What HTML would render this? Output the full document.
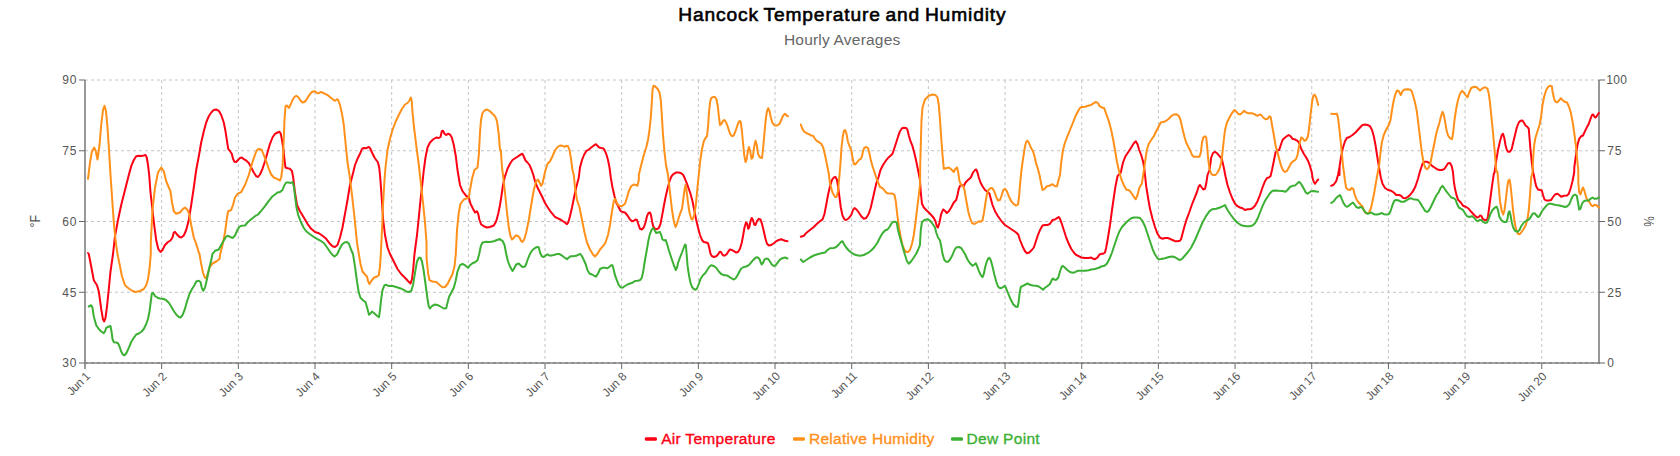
<!DOCTYPE html>
<html><head><meta charset="utf-8"><title>Hancock Temperature and Humidity</title>
<style>html,body{margin:0;padding:0;background:#fff;overflow:hidden}body{width:1680px;height:456px;position:relative}</style></head>
<body>
<svg width="1680" height="456" viewBox="0 0 1680 456" style="position:absolute;left:0;top:0">
<line x1="85" y1="80" x2="1599" y2="80" stroke="#c4c4c4" stroke-width="1" stroke-dasharray="3,3"/>
<line x1="85" y1="150.75" x2="1599" y2="150.75" stroke="#c4c4c4" stroke-width="1" stroke-dasharray="3,3"/>
<line x1="85" y1="221.5" x2="1599" y2="221.5" stroke="#c4c4c4" stroke-width="1" stroke-dasharray="3,3"/>
<line x1="85" y1="292.25" x2="1599" y2="292.25" stroke="#c4c4c4" stroke-width="1" stroke-dasharray="3,3"/>
<line x1="161.67" y1="363" x2="161.67" y2="80" stroke="#c4c4c4" stroke-width="1" stroke-dasharray="3,3" stroke-dashoffset="2"/>
<line x1="238.34" y1="363" x2="238.34" y2="80" stroke="#c4c4c4" stroke-width="1" stroke-dasharray="3,3" stroke-dashoffset="2"/>
<line x1="315.01" y1="363" x2="315.01" y2="80" stroke="#c4c4c4" stroke-width="1" stroke-dasharray="3,3" stroke-dashoffset="2"/>
<line x1="391.68" y1="363" x2="391.68" y2="80" stroke="#c4c4c4" stroke-width="1" stroke-dasharray="3,3" stroke-dashoffset="2"/>
<line x1="468.36" y1="363" x2="468.36" y2="80" stroke="#c4c4c4" stroke-width="1" stroke-dasharray="3,3" stroke-dashoffset="2"/>
<line x1="545.03" y1="363" x2="545.03" y2="80" stroke="#c4c4c4" stroke-width="1" stroke-dasharray="3,3" stroke-dashoffset="2"/>
<line x1="621.7" y1="363" x2="621.7" y2="80" stroke="#c4c4c4" stroke-width="1" stroke-dasharray="3,3" stroke-dashoffset="2"/>
<line x1="698.37" y1="363" x2="698.37" y2="80" stroke="#c4c4c4" stroke-width="1" stroke-dasharray="3,3" stroke-dashoffset="2"/>
<line x1="775.04" y1="363" x2="775.04" y2="80" stroke="#c4c4c4" stroke-width="1" stroke-dasharray="3,3" stroke-dashoffset="2"/>
<line x1="851.71" y1="363" x2="851.71" y2="80" stroke="#c4c4c4" stroke-width="1" stroke-dasharray="3,3" stroke-dashoffset="2"/>
<line x1="928.38" y1="363" x2="928.38" y2="80" stroke="#c4c4c4" stroke-width="1" stroke-dasharray="3,3" stroke-dashoffset="2"/>
<line x1="1005.05" y1="363" x2="1005.05" y2="80" stroke="#c4c4c4" stroke-width="1" stroke-dasharray="3,3" stroke-dashoffset="2"/>
<line x1="1081.72" y1="363" x2="1081.72" y2="80" stroke="#c4c4c4" stroke-width="1" stroke-dasharray="3,3" stroke-dashoffset="2"/>
<line x1="1158.39" y1="363" x2="1158.39" y2="80" stroke="#c4c4c4" stroke-width="1" stroke-dasharray="3,3" stroke-dashoffset="2"/>
<line x1="1235.07" y1="363" x2="1235.07" y2="80" stroke="#c4c4c4" stroke-width="1" stroke-dasharray="3,3" stroke-dashoffset="2"/>
<line x1="1311.74" y1="363" x2="1311.74" y2="80" stroke="#c4c4c4" stroke-width="1" stroke-dasharray="3,3" stroke-dashoffset="2"/>
<line x1="1388.41" y1="363" x2="1388.41" y2="80" stroke="#c4c4c4" stroke-width="1" stroke-dasharray="3,3" stroke-dashoffset="2"/>
<line x1="1465.08" y1="363" x2="1465.08" y2="80" stroke="#c4c4c4" stroke-width="1" stroke-dasharray="3,3" stroke-dashoffset="2"/>
<line x1="1541.75" y1="363" x2="1541.75" y2="80" stroke="#c4c4c4" stroke-width="1" stroke-dasharray="3,3" stroke-dashoffset="2"/>
<line x1="85" y1="80" x2="85" y2="369" stroke="#989898" stroke-width="2"/>
<line x1="1599" y1="80" x2="1599" y2="364" stroke="#989898" stroke-width="2"/>
<line x1="84" y1="363" x2="1600" y2="363" stroke="#8e8e8e" stroke-width="2"/>
<line x1="85" y1="363" x2="1599" y2="363" stroke="#b8b8b8" stroke-width="1" stroke-dasharray="3,3" stroke-dashoffset="3"/>
<line x1="79" y1="80" x2="85" y2="80" stroke="#666" stroke-width="1"/>
<line x1="1599" y1="80" x2="1605" y2="80" stroke="#666" stroke-width="1"/>
<line x1="79" y1="150.75" x2="85" y2="150.75" stroke="#666" stroke-width="1"/>
<line x1="1599" y1="150.75" x2="1605" y2="150.75" stroke="#666" stroke-width="1"/>
<line x1="79" y1="221.5" x2="85" y2="221.5" stroke="#666" stroke-width="1"/>
<line x1="1599" y1="221.5" x2="1605" y2="221.5" stroke="#666" stroke-width="1"/>
<line x1="79" y1="292.25" x2="85" y2="292.25" stroke="#666" stroke-width="1"/>
<line x1="1599" y1="292.25" x2="1605" y2="292.25" stroke="#666" stroke-width="1"/>
<line x1="79" y1="363" x2="85" y2="363" stroke="#666" stroke-width="1"/>
<line x1="1599" y1="363" x2="1605" y2="363" stroke="#666" stroke-width="1"/>
<line x1="161.67" y1="363" x2="161.67" y2="369" stroke="#666" stroke-width="1"/>
<line x1="238.34" y1="363" x2="238.34" y2="369" stroke="#666" stroke-width="1"/>
<line x1="315.01" y1="363" x2="315.01" y2="369" stroke="#666" stroke-width="1"/>
<line x1="391.68" y1="363" x2="391.68" y2="369" stroke="#666" stroke-width="1"/>
<line x1="468.36" y1="363" x2="468.36" y2="369" stroke="#666" stroke-width="1"/>
<line x1="545.03" y1="363" x2="545.03" y2="369" stroke="#666" stroke-width="1"/>
<line x1="621.7" y1="363" x2="621.7" y2="369" stroke="#666" stroke-width="1"/>
<line x1="698.37" y1="363" x2="698.37" y2="369" stroke="#666" stroke-width="1"/>
<line x1="775.04" y1="363" x2="775.04" y2="369" stroke="#666" stroke-width="1"/>
<line x1="851.71" y1="363" x2="851.71" y2="369" stroke="#666" stroke-width="1"/>
<line x1="928.38" y1="363" x2="928.38" y2="369" stroke="#666" stroke-width="1"/>
<line x1="1005.05" y1="363" x2="1005.05" y2="369" stroke="#666" stroke-width="1"/>
<line x1="1081.72" y1="363" x2="1081.72" y2="369" stroke="#666" stroke-width="1"/>
<line x1="1158.39" y1="363" x2="1158.39" y2="369" stroke="#666" stroke-width="1"/>
<line x1="1235.07" y1="363" x2="1235.07" y2="369" stroke="#666" stroke-width="1"/>
<line x1="1311.74" y1="363" x2="1311.74" y2="369" stroke="#666" stroke-width="1"/>
<line x1="1388.41" y1="363" x2="1388.41" y2="369" stroke="#666" stroke-width="1"/>
<line x1="1465.08" y1="363" x2="1465.08" y2="369" stroke="#666" stroke-width="1"/>
<line x1="1541.75" y1="363" x2="1541.75" y2="369" stroke="#666" stroke-width="1"/>
<path d="M88.0 253.0L88.8 254.0L91.2 266.5L93.8 280.2L97.0 285.2L98.8 291.5L101.2 309.0L103.0 319.5L104.2 321.5L105.5 317.8L107.0 306.5L108.8 289.0L110.5 271.5L113.0 254.0L115.0 236.2L118.0 220.0L121.2 205.0L125.0 190.0L128.8 175.0L131.2 166.2L133.8 160.0L136.2 156.2L138.8 155.8L141.2 156.0L143.8 155.5L145.5 155.0L146.8 157.5L148.0 165.0L149.2 175.0L150.5 192.5L152.5 210.0L154.2 225.0L156.2 240.0L158.2 248.8L160.5 252.0L162.5 250.0L165.0 245.0L168.0 242.0L170.5 240.5L172.5 237.5L173.8 232.5L175.0 231.8L177.0 234.5L179.5 237.0L181.2 237.5L183.8 235.5L186.2 230.0L188.8 220.0L191.2 205.0L193.8 187.5L196.2 170.0L198.8 156.2L201.2 142.5L203.8 131.2L206.2 122.5L208.8 116.2L211.2 112.5L213.8 110.0L216.2 109.5L218.8 110.8L221.2 115.0L223.8 122.5L225.5 131.2L227.0 141.2L228.2 148.8L230.0 151.2L231.8 153.8L233.0 158.8L234.5 161.8L236.2 162.0L238.0 160.0L240.0 158.0L241.8 157.5L243.8 159.2L246.2 160.5L248.8 163.0L251.2 167.5L253.8 172.5L256.2 176.2L258.0 177.0L260.0 174.5L262.5 168.8L265.0 161.2L267.5 152.5L270.0 143.8L272.5 137.5L275.0 133.8L277.5 132.5L279.5 131.8L280.8 133.8L282.0 140.0L283.5 150.0L284.5 160.0L285.5 167.5L287.5 168.2L290.0 168.8L292.0 171.2L293.2 177.5L293.8 182.5L295.0 192.5L297.0 205.0L300.0 211.2L303.8 217.5L307.5 223.8L311.2 228.8L315.0 232.0L318.8 233.2L322.5 235.8L326.2 238.8L330.0 243.8L332.5 246.2L335.0 247.0L337.5 245.0L340.0 237.5L342.5 227.5L345.0 213.8L347.5 200.0L350.0 185.0L353.2 172.5L355.0 165.0L357.5 158.8L360.0 153.8L362.0 148.8L363.8 148.0L366.2 148.2L368.8 147.0L370.0 148.0L372.0 152.5L374.5 157.5L376.2 160.0L378.0 162.5L379.2 167.5L380.0 175.0L380.8 185.0L382.0 202.5L383.2 220.0L385.0 235.0L387.5 247.5L390.0 254.0L393.8 261.5L397.5 269.0L401.2 274.0L405.0 277.8L408.0 281.0L410.5 283.5L412.0 279.0L413.2 269.0L414.5 254.0L417.0 235.0L418.8 217.5L420.5 200.0L422.5 182.5L423.8 170.0L425.5 157.5L427.5 147.5L430.0 142.5L433.0 139.5L436.2 137.5L438.8 138.0L440.5 137.0L441.8 131.2L443.0 130.8L444.5 133.8L446.2 135.0L448.0 133.8L450.0 134.5L451.8 137.5L453.8 145.0L455.8 156.2L457.5 170.0L460.0 185.0L462.5 191.2L466.2 195.8L468.8 197.5L470.5 203.8L473.0 208.8L475.0 212.5L477.0 211.2L478.2 213.8L479.5 220.0L481.2 224.5L483.8 226.2L487.0 227.5L490.0 227.0L493.8 225.5L496.2 221.2L498.2 213.8L500.0 205.0L501.2 197.5L503.0 185.0L505.0 176.2L505.5 175.0L507.5 168.8L510.0 163.8L512.5 160.0L515.5 158.0L518.8 155.8L521.2 154.2L522.5 153.8L524.0 157.0L525.5 160.5L527.5 162.5L529.5 165.0L531.2 168.8L533.0 173.8L535.0 181.2L537.5 187.5L540.0 192.5L542.5 197.5L545.0 203.0L547.5 207.0L550.0 210.8L552.5 213.8L555.0 217.0L557.5 218.2L561.2 220.0L563.8 221.8L565.5 223.0L567.0 224.2L568.2 222.5L570.0 216.2L572.0 207.5L574.0 197.5L576.2 187.5L578.8 177.5L580.0 167.5L582.0 160.0L584.0 155.0L586.2 151.2L588.8 149.5L591.2 147.5L593.8 145.5L595.8 144.2L597.5 145.8L599.2 147.5L601.2 148.0L603.0 148.2L604.5 150.0L606.2 153.8L608.0 160.0L609.5 167.5L610.8 177.5L612.5 187.5L614.5 196.2L616.2 202.5L618.8 207.5L620.5 210.8L622.5 212.0L625.0 212.5L627.5 215.5L630.0 219.5L632.0 221.2L633.8 220.8L635.5 219.5L637.0 220.0L638.2 223.8L640.0 228.8L641.8 229.5L643.8 227.5L645.5 222.5L647.0 216.2L648.5 213.0L650.0 212.5L651.0 215.0L652.0 221.2L653.2 226.2L655.0 228.8L657.0 229.2L658.8 228.0L660.5 223.8L662.0 216.2L663.8 206.2L665.5 197.5L667.5 188.8L669.5 181.2L671.5 176.2L673.8 173.8L676.2 172.5L678.8 172.5L681.2 173.2L683.2 175.0L685.0 178.8L687.0 183.8L688.8 188.8L690.5 193.8L692.5 201.2L694.5 211.2L696.2 220.0L698.0 227.5L700.0 235.0L702.0 240.0L703.8 242.0L706.2 242.5L708.0 243.2L709.2 247.5L710.5 253.8L712.0 256.2L713.8 257.0L716.2 256.2L718.0 254.5L719.5 252.0L720.8 251.8L722.0 253.8L723.2 255.5L725.0 255.5L727.0 253.8L728.8 250.8L730.0 249.5L732.0 250.0L733.8 251.2L736.2 252.5L738.0 252.0L740.0 248.8L741.8 242.5L743.2 235.0L744.5 227.5L746.0 222.5L747.2 223.8L748.2 228.8L749.2 227.5L750.5 221.2L751.8 218.0L753.0 220.0L754.2 224.5L755.5 225.0L757.0 221.2L758.8 218.8L760.5 219.5L762.0 223.8L763.8 231.2L765.5 238.8L767.0 243.8L768.8 245.5L771.2 245.0L773.8 243.2L776.2 241.2L778.8 240.0L781.2 239.2L783.0 240.0L785.0 240.8L787.5 241.2 M800.8 236.8L803.8 235.8L806.2 233.0L810.0 230.0L813.8 227.0L817.0 223.8L820.0 221.2L822.5 219.5L824.5 213.8L826.2 205.0L828.0 195.0L830.0 186.2L832.0 180.0L833.8 177.5L835.5 177.0L837.0 180.0L838.2 187.5L839.5 197.5L840.8 207.5L842.5 215.5L844.5 219.5L846.2 220.0L848.8 218.2L851.2 215.0L853.0 210.0L854.5 208.0L856.2 209.2L858.8 212.5L861.2 216.2L863.8 218.8L866.2 218.0L868.8 213.8L870.8 207.5L872.5 200.0L874.5 191.2L876.2 183.8L878.8 176.2L880.5 170.0L883.0 165.0L885.5 161.2L888.0 158.0L890.5 155.8L892.5 153.8L894.2 148.8L896.2 142.5L898.2 136.2L900.0 131.2L902.0 128.2L903.8 127.8L906.2 128.0L907.5 130.0L908.8 135.5L910.5 141.2L912.5 146.2L914.2 152.5L916.0 160.0L917.5 167.5L919.0 175.0L920.0 180.0L920.0 180.0L920.8 192.5L922.0 203.8L923.8 207.5L926.2 210.0L928.8 212.5L931.2 215.0L933.8 218.0L935.5 221.2L936.8 226.2L938.0 227.5L939.5 222.5L941.2 213.8L943.2 209.5L945.0 210.8L946.8 213.0L948.8 211.2L951.2 207.5L953.8 202.5L956.2 200.0L957.5 195.0L958.8 188.8L960.0 185.8L961.8 185.0L963.8 186.2L965.5 182.5L968.0 180.0L970.8 177.5L973.0 172.5L975.0 170.0L976.2 169.5L977.5 172.5L978.8 177.5L980.5 182.5L982.5 186.2L985.0 190.0L987.5 191.8L989.5 193.8L990.8 198.8L992.5 205.0L995.0 211.2L998.0 216.2L1001.2 220.8L1005.0 225.0L1008.8 227.5L1012.5 230.0L1016.2 232.5L1018.2 234.5L1020.0 240.0L1022.5 246.2L1025.0 251.2L1027.0 253.2L1029.2 252.5L1031.8 250.0L1033.8 247.5L1035.5 242.5L1037.5 236.2L1040.0 230.0L1042.5 225.5L1045.0 225.0L1047.5 225.0L1050.0 223.8L1052.5 220.0L1055.0 219.5L1057.0 218.2L1058.8 217.0L1060.0 218.8L1061.8 223.8L1063.8 230.0L1066.2 237.5L1068.8 243.8L1071.2 248.8L1073.8 252.5L1076.2 255.0L1078.8 256.2L1081.2 257.5L1085.0 258.0L1088.8 258.0L1091.2 257.5L1093.2 258.8L1095.0 259.2L1097.5 257.5L1099.5 254.5L1101.2 253.8L1103.2 253.8L1105.0 252.5L1106.2 247.5L1108.0 237.5L1110.0 225.0L1112.0 210.0L1113.8 197.5L1115.5 186.2L1117.5 176.2L1120.8 172.5L1123.0 162.5L1125.5 156.2L1128.8 151.2L1131.2 147.5L1133.8 143.2L1135.8 141.2L1137.5 144.2L1139.2 150.0L1141.2 155.0L1143.0 161.2L1144.5 170.0L1145.0 175.0L1146.2 186.2L1148.0 197.5L1150.0 208.8L1152.5 218.8L1155.0 227.0L1157.5 233.8L1160.0 237.5L1162.5 238.8L1165.0 238.0L1167.5 238.0L1170.0 238.8L1172.5 240.0L1175.0 241.2L1177.5 241.2L1180.0 240.8L1181.2 238.8L1182.5 233.8L1184.5 226.2L1186.8 218.8L1189.2 212.5L1191.8 205.0L1194.2 198.8L1196.8 192.5L1198.8 186.2L1200.0 185.0L1201.8 187.5L1203.2 189.5L1205.0 188.8L1206.2 183.8L1207.5 175.0L1209.5 170.0L1211.2 157.5L1213.0 153.0L1215.0 151.8L1217.0 153.2L1219.5 156.2L1221.8 158.8L1223.2 165.0L1223.8 167.5L1225.5 176.2L1227.5 185.0L1230.0 192.5L1232.5 198.8L1235.0 203.8L1237.5 206.2L1240.0 207.5L1242.5 208.2L1245.0 210.0L1247.5 209.2L1250.0 209.2L1252.5 208.2L1255.0 205.8L1257.5 201.2L1260.0 195.0L1262.5 187.5L1265.0 181.2L1267.0 178.0L1268.8 177.5L1270.5 176.2L1272.0 170.0L1273.8 161.2L1275.5 152.5L1277.5 150.5L1279.2 150.0L1280.8 145.0L1282.5 140.0L1284.5 138.0L1286.8 136.2L1288.8 135.0L1290.5 136.2L1292.5 138.8L1295.0 139.5L1297.5 140.8L1299.5 143.8L1301.2 148.8L1303.8 153.8L1306.2 157.5L1308.2 161.2L1310.0 166.2L1311.8 172.5L1312.5 177.5L1313.8 182.0L1315.0 183.8L1316.8 181.2L1318.2 179.5 M1331.2 185.8L1333.8 184.5L1336.2 181.2L1338.0 175.0L1339.5 167.5L1339.5 175.0L1339.6 166.2L1341.2 156.2L1343.0 147.5L1345.0 141.2L1346.8 138.0L1349.5 137.0L1352.5 135.0L1355.5 132.5L1358.2 129.5L1360.5 127.0L1362.5 125.0L1365.0 124.5L1367.5 125.0L1370.0 126.2L1372.0 130.0L1373.8 136.2L1375.5 145.0L1377.0 155.0L1378.8 166.2L1379.5 170.0L1380.8 177.5L1382.5 183.8L1385.0 188.0L1388.0 190.0L1391.2 190.8L1393.8 192.5L1396.2 195.0L1398.8 195.0L1401.2 195.8L1403.2 198.0L1405.5 198.2L1408.0 196.8L1410.5 194.5L1413.0 191.2L1415.5 186.2L1418.0 178.8L1420.0 171.2L1420.5 170.0L1422.5 163.8L1424.5 161.8L1427.0 161.8L1429.5 163.0L1432.0 165.8L1434.5 167.5L1437.0 169.2L1439.5 170.0L1442.0 170.0L1444.5 168.8L1446.2 166.2L1448.0 163.2L1450.0 163.0L1451.8 166.2L1453.0 172.5L1453.0 172.5L1453.8 181.2L1455.0 188.8L1456.8 196.2L1458.2 200.0L1460.8 202.5L1463.2 205.8L1466.2 207.0L1468.8 208.8L1471.2 211.8L1474.2 215.0L1476.8 217.5L1478.8 217.0L1480.0 215.5L1481.5 216.2L1483.0 219.2L1485.0 220.0L1487.0 220.0L1488.0 216.2L1489.2 207.5L1490.5 197.5L1492.0 186.2L1493.8 173.8L1494.5 172.5L1496.2 161.2L1498.0 150.0L1500.0 141.2L1501.8 135.0L1503.0 133.8L1504.2 137.5L1505.5 145.0L1506.8 150.0L1508.2 151.8L1510.0 151.8L1511.8 148.8L1513.2 142.5L1515.0 135.0L1516.8 127.5L1518.8 122.5L1520.5 120.8L1522.5 120.5L1523.8 122.5L1525.5 125.5L1527.5 127.0L1528.8 128.8L1529.5 137.5L1530.5 150.0L1531.8 162.5L1533.2 172.5L1533.8 175.0L1535.0 181.2L1536.2 186.2L1538.0 189.5L1540.0 190.0L1541.8 190.5L1543.0 195.0L1544.5 199.5L1546.2 200.5L1548.8 200.5L1551.2 200.0L1553.0 197.0L1555.0 194.5L1557.5 193.8L1559.2 195.0L1561.2 196.8L1563.8 195.8L1567.0 195.5L1568.8 193.8L1570.5 188.8L1572.5 181.2L1574.2 172.5L1574.3 167.5L1575.8 156.2L1577.5 145.0L1579.2 138.8L1581.2 136.2L1583.0 135.5L1585.0 131.2L1587.0 127.0L1588.8 123.8L1590.5 118.8L1592.0 115.0L1593.2 114.5L1594.5 116.8L1595.8 117.5L1597.5 115.0L1598.8 113.0" fill="none" stroke="#fc0014" stroke-width="2" stroke-linejoin="round" stroke-linecap="round"/>
<path d="M88.0 178.8L90.0 162.5L92.0 151.2L94.2 147.5L95.8 151.2L97.5 159.5L99.5 145.0L101.2 125.0L103.0 110.0L104.5 105.8L106.0 111.2L107.5 127.5L109.0 150.0L110.5 175.0L111.2 185.0L113.8 222.5L115.8 242.5L117.5 254.0L119.5 264.0L122.0 276.5L125.0 285.2L128.8 288.5L132.5 291.0L135.5 292.0L140.0 291.0L143.8 289.0L146.2 285.2L148.0 279.0L149.5 269.0L150.8 254.0L150.8 242.5L152.5 210.0L155.0 187.5L158.0 172.5L161.2 167.5L163.8 171.2L166.2 181.2L168.8 187.5L170.5 191.2L172.0 202.5L173.8 211.2L176.2 213.8L180.0 212.5L183.0 208.8L185.0 207.5L187.5 210.0L189.2 213.8L191.2 225.0L193.8 237.5L196.2 243.8L198.8 252.5L199.5 254.0L201.2 264.0L203.0 272.8L205.0 277.8L206.2 278.5L208.0 272.8L210.0 266.5L212.5 263.5L216.2 261.5L219.5 259.0L220.0 255.0L222.5 245.0L225.0 232.5L227.0 217.5L228.2 211.2L231.2 210.0L233.0 205.0L235.0 197.5L237.5 193.8L241.2 192.0L245.0 185.0L248.8 175.0L251.2 166.2L253.2 160.0L255.8 152.5L257.5 149.5L259.5 149.0L261.8 150.0L263.8 155.0L266.2 161.2L268.8 168.8L271.2 174.5L273.8 177.5L277.5 179.2L280.0 180.5L281.2 177.5L282.5 167.5L283.5 145.0L284.5 120.0L285.5 106.2L287.0 105.5L288.8 108.0L290.5 105.0L292.5 100.0L294.5 97.0L296.2 95.8L298.2 97.0L300.5 100.5L302.5 102.5L304.5 102.0L306.2 100.0L308.8 95.8L311.2 92.5L313.2 91.5L315.0 91.2L317.0 93.0L318.8 93.2L320.5 92.0L322.5 92.5L325.0 93.8L327.5 95.0L331.2 98.0L333.8 100.0L335.0 100.8L337.0 99.2L338.2 100.0L340.0 105.0L342.0 113.8L343.8 125.0L345.5 142.5L347.5 162.5L349.5 175.0L352.0 195.0L354.5 217.5L357.0 242.5L358.8 254.0L360.5 264.0L362.5 271.5L365.0 274.5L367.0 276.5L368.2 281.5L369.5 284.0L371.2 281.0L373.8 277.8L377.0 276.5L378.8 275.2L380.0 266.5L380.8 254.0L382.0 230.0L383.0 205.0L384.5 180.0L385.5 167.5L387.5 150.0L390.0 138.8L392.5 130.0L395.5 122.0L398.8 115.0L402.0 108.8L405.0 104.5L407.5 103.0L409.5 100.5L410.8 97.5L411.8 101.2L412.5 112.5L414.2 128.8L416.2 145.0L418.8 165.0L420.5 180.0L423.0 202.5L425.0 222.5L426.5 242.5L426.6 259.0L427.2 264.0L428.2 274.0L429.5 280.2L432.5 281.5L436.2 282.0L440.0 285.2L442.5 287.2L445.0 287.0L447.5 284.0L450.0 279.0L452.5 274.0L454.5 266.5L455.8 254.0L457.0 230.0L458.8 212.5L460.5 203.8L463.8 199.5L467.0 198.2L468.8 197.5L470.0 190.0L472.0 178.8L474.5 170.0L477.5 167.5L478.8 155.0L480.0 132.5L481.0 120.0L482.5 113.0L484.5 110.5L487.0 109.5L490.0 111.2L492.5 113.8L495.0 116.2L497.0 121.2L498.8 135.0L500.0 150.0L500.8 150.0L502.0 167.5L503.0 175.0L505.0 192.5L507.0 212.5L508.8 227.5L510.5 236.2L512.0 239.5L513.8 238.0L515.5 235.5L517.5 235.8L519.5 237.5L521.2 241.2L522.5 242.0L524.2 239.5L526.2 232.5L528.8 220.0L531.2 205.0L533.8 190.0L536.2 181.2L538.0 179.5L539.5 182.5L541.2 185.8L542.5 183.8L543.8 177.5L545.5 170.0L547.5 163.8L550.0 161.2L552.5 156.2L555.0 150.5L557.5 147.0L560.0 145.5L562.5 145.8L564.5 146.8L566.2 145.8L568.0 146.2L569.5 150.0L571.0 158.8L572.5 170.0L573.8 175.0L575.0 187.5L577.0 200.0L579.5 207.5L582.0 220.0L584.5 232.5L587.0 242.5L590.0 249.5L593.0 254.5L595.0 256.5L597.5 253.8L600.0 249.5L603.0 246.2L605.5 242.5L608.0 235.0L610.0 225.0L612.0 211.2L613.8 201.2L615.0 198.8L616.2 201.2L618.0 205.0L620.0 206.2L622.5 205.8L625.0 203.8L627.0 197.5L628.8 191.2L631.2 186.2L633.8 184.5L636.2 185.0L637.5 185.8L638.8 180.0L638.8 175.0L641.2 165.0L643.8 155.0L646.2 147.5L648.0 140.0L649.5 130.0L650.8 117.5L651.8 102.5L652.5 90.0L653.5 85.8L655.0 86.2L657.5 88.8L659.5 92.5L660.8 100.0L661.8 115.0L663.0 135.0L664.5 152.5L666.0 165.0L668.0 175.0L670.0 192.5L672.0 210.0L673.8 221.2L675.5 227.0L677.0 223.8L678.8 217.5L680.5 212.5L682.0 208.8L683.2 200.0L684.5 190.0L685.5 185.0L686.5 190.0L688.0 202.5L689.5 212.5L691.2 218.8L692.5 219.5L694.2 215.0L695.8 205.0L697.0 192.5L698.2 180.0L698.8 175.0L700.0 162.5L701.8 150.0L703.8 141.2L705.5 138.0L707.0 136.2L708.0 127.5L709.0 112.5L710.0 102.5L711.2 98.2L713.0 97.0L715.0 97.0L716.5 99.5L717.8 106.2L719.0 117.5L720.0 125.0L721.5 123.8L723.0 120.8L724.5 120.0L726.2 122.5L728.0 127.5L730.0 133.8L732.0 136.2L733.8 135.5L735.5 131.2L737.5 125.0L739.2 121.2L740.5 121.2L741.8 130.0L743.0 142.5L744.2 155.0L745.5 162.0L746.8 158.8L748.0 150.0L749.0 147.0L750.2 151.2L751.5 158.8L752.8 157.5L754.0 147.5L755.5 140.8L756.8 145.0L758.0 153.8L760.0 157.5L762.0 158.0L763.2 147.5L764.5 132.5L765.8 118.8L767.0 111.2L768.2 108.2L769.5 111.2L770.8 117.5L772.5 123.0L774.5 125.5L777.0 125.5L779.5 123.8L781.2 120.0L783.0 115.8L785.0 113.8L787.0 115.8L788.0 116.2 M800.8 124.5L802.0 128.0L803.8 131.2L806.2 133.0L808.8 134.2L811.2 135.5L813.0 135.8L815.0 138.8L817.0 141.2L819.5 142.5L821.2 143.8L823.2 147.5L825.0 155.0L826.8 163.8L828.8 173.8L830.0 183.8L832.5 192.5L835.0 197.0L836.5 197.0L838.0 191.2L839.5 175.0L840.5 162.5L841.5 147.5L842.8 136.2L844.0 130.8L845.2 130.0L846.5 133.8L847.8 141.2L849.5 146.2L851.2 150.0L852.5 157.5L853.8 163.8L855.0 164.5L857.0 162.5L858.8 160.0L860.8 158.8L862.0 156.2L863.0 151.2L864.2 148.0L866.2 147.0L868.0 148.0L869.2 152.5L870.8 160.0L872.5 166.2L875.0 173.8L877.5 181.2L880.0 187.0L882.5 188.2L885.0 191.2L887.0 193.2L890.0 193.5L893.0 193.8L894.5 195.0L895.8 201.2L897.0 212.5L898.8 226.2L900.8 237.5L902.5 245.0L904.5 250.0L906.2 252.0L908.0 252.0L910.0 250.0L912.0 243.8L913.8 235.0L915.5 222.5L917.0 210.0L918.8 195.0L920.0 185.0L920.2 165.0L920.8 145.0L921.5 120.0L922.5 107.5L925.0 99.5L928.8 95.8L932.5 94.5L935.5 95.0L937.5 97.5L938.8 105.0L940.0 120.0L941.2 137.5L942.5 155.0L943.8 168.8L946.2 168.2L948.8 167.5L951.2 169.2L953.8 172.0L955.5 168.8L957.0 167.5L958.0 171.2L959.5 181.2L961.2 185.0L963.0 185.8L964.5 190.0L966.2 200.0L968.2 211.2L970.0 218.0L972.0 223.0L974.5 224.0L977.0 222.5L978.8 221.2L980.8 221.8L982.5 220.5L984.0 212.5L985.5 202.5L987.0 193.8L988.8 189.5L990.8 188.0L992.5 188.2L994.2 191.2L996.2 197.0L998.0 200.5L1000.0 200.0L1001.8 195.0L1003.2 190.0L1005.0 188.8L1006.8 191.2L1008.8 196.2L1011.2 201.2L1013.8 204.2L1016.2 205.5L1018.0 204.5L1019.0 197.5L1020.0 185.0L1021.2 172.5L1022.5 162.5L1023.8 153.8L1025.0 146.2L1026.2 142.0L1027.5 140.8L1029.0 143.0L1030.8 147.5L1033.0 151.2L1034.5 156.2L1036.2 163.8L1037.5 167.5L1039.5 175.0L1041.2 183.8L1042.5 190.0L1044.5 188.8L1047.0 186.2L1050.0 185.5L1052.5 184.2L1055.0 186.2L1057.0 186.2L1058.2 181.2L1060.0 175.0L1061.2 162.5L1063.0 150.0L1065.0 142.5L1067.5 136.2L1070.0 130.0L1073.0 122.5L1075.5 116.2L1078.0 111.2L1080.0 108.0L1082.0 107.0L1085.0 106.8L1088.0 105.8L1091.2 105.0L1093.8 103.0L1096.2 102.0L1098.0 103.0L1099.5 106.2L1102.0 107.5L1104.2 108.2L1106.2 113.8L1108.8 121.2L1111.2 130.0L1113.2 140.0L1115.0 150.0L1116.8 161.2L1118.8 170.0L1121.2 178.8L1123.8 185.0L1126.2 189.5L1129.5 190.5L1132.0 193.8L1134.2 197.5L1135.8 199.2L1137.5 195.0L1139.5 187.5L1141.8 183.8L1143.2 175.0L1145.0 162.5L1146.8 150.0L1148.8 143.8L1151.2 140.0L1153.8 136.2L1156.2 131.2L1158.8 126.2L1160.8 122.5L1163.8 121.8L1166.2 120.8L1168.8 118.8L1171.2 116.2L1173.8 114.5L1176.2 114.2L1178.8 115.8L1180.5 120.0L1182.5 128.8L1184.5 137.0L1186.2 142.5L1188.0 146.2L1190.0 150.0L1192.0 155.0L1193.8 156.8L1196.2 156.8L1199.5 156.8L1200.8 152.5L1202.0 142.5L1203.2 137.5L1205.0 136.2L1206.2 137.5L1207.0 145.0L1208.0 157.5L1209.5 168.8L1211.2 173.8L1213.0 175.0L1215.5 175.0L1217.5 172.5L1219.5 168.8L1221.2 162.5L1222.5 152.5L1223.8 140.0L1225.0 130.0L1227.0 122.5L1229.5 117.5L1232.0 113.0L1234.5 110.0L1236.2 111.2L1238.0 113.8L1240.0 114.5L1242.0 113.0L1244.2 110.8L1246.2 112.5L1248.8 113.2L1252.0 113.2L1255.0 114.5L1257.5 115.8L1259.5 114.5L1261.2 115.0L1263.2 117.5L1265.5 119.2L1267.5 118.8L1269.5 116.2L1270.8 117.5L1272.0 125.0L1273.8 135.0L1275.5 145.0L1277.5 152.5L1279.5 160.0L1281.2 166.2L1283.2 170.5L1285.0 172.0L1287.0 170.8L1288.8 167.5L1291.2 163.0L1293.8 160.8L1295.8 159.5L1297.5 155.0L1299.2 145.0L1301.2 137.5L1302.5 138.2L1304.5 140.8L1306.2 140.0L1308.0 136.2L1309.2 127.5L1310.5 115.0L1312.0 102.5L1313.2 96.2L1314.5 94.5L1316.2 97.5L1317.5 102.5L1318.2 105.0 M1331.2 113.8L1333.8 114.0L1337.0 113.8L1338.2 118.8L1339.5 130.0L1340.8 142.5L1342.0 155.0L1343.2 167.5L1343.8 171.2L1345.0 181.2L1346.2 188.0L1348.0 189.5L1350.0 190.0L1351.8 188.0L1353.2 188.8L1354.5 193.8L1356.2 198.8L1358.2 202.0L1360.5 204.5L1362.5 206.2L1363.8 210.0L1365.0 212.5L1367.0 213.2L1368.8 213.0L1370.8 208.8L1372.5 201.2L1374.5 191.2L1376.2 181.2L1378.0 171.2L1379.2 165.0L1380.5 152.5L1381.8 142.5L1383.8 135.0L1386.2 129.5L1388.8 125.0L1390.5 120.0L1392.0 110.0L1393.8 100.0L1395.5 93.8L1397.0 90.5L1398.8 91.2L1400.8 95.0L1402.5 91.2L1404.5 89.5L1407.5 89.2L1410.0 89.5L1411.8 91.2L1413.2 96.2L1415.0 102.5L1416.8 111.2L1418.2 122.5L1420.0 137.5L1421.8 152.5L1423.8 163.8L1425.5 168.2L1427.0 169.2L1428.8 167.5L1430.5 162.5L1432.5 152.5L1434.5 142.5L1436.2 133.8L1438.0 127.5L1439.5 122.5L1441.0 116.2L1442.5 111.8L1443.8 115.0L1445.0 121.2L1446.5 130.0L1448.0 135.5L1450.0 138.2L1452.0 139.2L1453.2 132.5L1454.5 120.0L1456.2 108.8L1458.0 100.0L1460.0 93.8L1462.0 90.8L1463.8 92.5L1465.5 95.0L1467.5 97.5L1469.2 92.5L1471.2 88.0L1473.8 86.8L1476.2 87.0L1478.2 88.8L1480.0 90.5L1482.0 88.8L1483.8 87.5L1485.8 87.5L1487.5 88.8L1488.8 93.8L1490.0 102.5L1491.2 115.0L1492.5 127.5L1493.8 141.2L1495.0 155.0L1496.2 170.0L1497.5 172.5L1498.8 187.5L1500.0 201.2L1501.8 211.2L1503.2 214.5L1504.5 210.0L1505.8 200.0L1507.0 188.8L1508.2 181.2L1509.5 179.5L1510.5 185.0L1511.8 197.5L1513.0 210.0L1514.5 221.2L1516.2 230.0L1518.0 233.8L1519.5 234.2L1521.2 232.5L1523.8 228.8L1525.8 225.0L1527.5 218.8L1528.8 210.0L1530.0 195.0L1531.2 177.5L1532.5 172.5L1533.2 157.5L1534.2 145.0L1535.5 137.5L1537.5 131.2L1539.5 125.0L1541.2 116.2L1542.5 105.0L1544.2 96.2L1546.2 90.0L1548.2 86.8L1550.0 85.8L1551.8 86.2L1552.5 91.2L1553.8 97.5L1555.0 101.2L1557.0 102.5L1558.8 100.8L1560.8 98.2L1562.5 100.0L1564.5 101.8L1567.0 102.5L1568.8 106.2L1570.8 112.5L1572.5 121.2L1574.2 132.5L1575.8 145.0L1577.0 157.5L1578.2 170.0L1578.3 170.0L1578.3 182.5L1579.2 192.5L1580.5 194.5L1581.8 190.0L1583.0 187.5L1584.5 191.2L1586.2 197.5L1588.2 201.2L1589.4 201.9L1591.2 205.3L1592.8 206.2L1594.4 204.7L1596.6 205.3L1598.4 207.2L1599.0 207.5" fill="none" stroke="#ff9019" stroke-width="2" stroke-linejoin="round" stroke-linecap="round"/>
<path d="M88.8 306.5L91.2 305.2L92.5 307.8L93.8 316.5L96.2 325.2L98.8 329.0L101.2 331.5L103.8 333.2L105.0 331.5L106.2 327.8L108.8 326.5L110.5 326.0L111.5 331.5L112.5 339.0L113.8 342.2L116.2 342.5L118.0 343.2L119.5 346.5L121.2 351.5L123.0 354.8L124.5 355.2L126.2 353.5L128.8 347.8L131.2 342.0L133.8 337.8L136.2 334.5L138.8 333.5L141.2 332.0L143.8 329.0L146.2 324.0L148.0 319.0L149.5 311.5L150.8 301.5L151.8 293.5L153.0 292.8L155.0 296.0L157.5 297.8L160.0 298.5L163.8 299.0L166.2 300.2L168.8 302.8L171.2 306.5L173.8 311.0L176.2 314.5L178.8 317.0L180.5 317.5L182.5 315.2L184.5 310.2L187.0 301.5L189.5 294.0L192.0 289.0L194.5 285.2L196.2 281.5L198.8 280.8L200.5 282.0L201.8 287.8L203.2 290.8L205.0 287.8L207.0 279.0L209.0 269.0L211.2 260.2L212.5 253.8L215.0 250.8L218.8 249.5L221.2 245.0L223.8 240.5L225.8 237.0L227.5 235.8L230.0 236.8L232.5 238.0L235.0 235.5L237.0 230.8L239.2 227.0L241.2 225.8L245.0 225.5L247.5 222.5L251.2 219.2L255.0 216.2L258.0 214.5L261.2 210.8L265.0 206.2L268.8 200.8L272.0 196.8L275.0 194.5L277.5 192.5L280.0 192.0L282.5 190.0L284.5 185.0L286.2 182.5L288.8 182.5L290.8 183.0L292.5 182.0L293.8 186.2L295.0 196.2L296.5 207.5L298.2 215.0L300.5 221.2L303.8 228.0L306.2 231.2L310.0 234.2L313.8 237.0L317.5 239.2L321.2 241.2L323.8 243.0L326.2 246.2L330.0 251.8L332.5 255.0L334.5 256.5L337.0 254.5L339.5 249.2L342.0 244.5L344.5 242.5L347.0 242.0L349.0 243.8L351.2 250.0L353.0 254.0L355.0 266.5L357.0 281.5L358.8 292.8L360.5 297.8L363.0 300.2L365.5 302.0L367.5 309.0L369.0 314.8L370.5 313.5L372.0 311.5L374.5 313.5L377.0 315.8L379.0 317.2L380.0 310.2L381.2 299.0L382.5 290.2L384.5 285.2L386.2 284.8L388.8 286.0L392.5 286.0L396.2 287.0L400.0 288.2L403.8 289.8L406.2 291.5L408.8 292.0L411.2 291.0L413.0 285.2L415.0 272.8L417.0 261.5L418.8 257.8L420.5 257.8L422.0 261.5L423.8 271.5L425.5 284.0L427.5 299.0L428.8 306.5L430.0 308.5L432.0 306.0L435.0 304.5L438.0 305.2L441.2 307.0L443.8 308.5L446.2 308.2L447.5 302.8L449.2 296.5L451.2 292.8L453.8 287.8L455.8 280.2L457.5 271.5L460.0 265.2L462.5 264.0L465.0 265.2L468.0 267.8L470.0 265.2L472.5 263.2L475.0 262.2L477.5 260.2L479.2 254.0L480.8 246.2L482.5 242.5L486.2 241.8L490.0 242.0L493.8 241.2L497.0 240.0L500.0 239.0L500.1 239.5L502.5 240.8L504.5 245.0L506.2 253.8L508.0 261.5L510.0 266.5L512.5 271.0L514.5 267.8L516.2 264.5L518.8 263.5L520.5 265.2L522.5 267.0L525.0 266.5L526.2 264.0L527.5 260.0L530.0 253.8L532.5 250.0L535.0 248.0L537.5 246.8L538.8 247.5L540.0 252.5L541.8 256.2L543.8 257.0L545.8 255.5L547.5 254.2L549.2 255.5L551.2 255.5L553.8 255.0L556.2 254.2L558.8 253.8L561.2 255.0L563.8 257.0L565.5 258.2L567.0 259.2L568.8 257.5L570.8 256.2L573.2 256.2L576.2 255.8L578.8 254.5L580.5 254.0L582.0 256.2L583.8 260.0L585.8 264.5L587.5 270.2L589.5 273.5L592.0 274.5L594.5 276.0L596.2 276.5L598.0 273.5L600.0 269.0L602.5 267.8L605.0 267.8L607.5 268.2L609.2 267.0L611.2 265.2L612.5 265.2L613.8 270.2L615.0 275.2L616.8 280.2L618.8 285.2L620.5 287.2L622.5 287.8L625.0 286.0L627.5 284.5L630.0 283.5L632.5 282.8L635.0 281.0L637.5 280.8L640.0 280.2L641.8 277.8L643.2 271.5L643.8 267.5L645.0 260.0L646.8 250.0L648.5 240.0L650.0 233.8L651.8 229.5L653.0 228.0L654.5 230.0L656.2 233.0L658.0 232.5L660.0 232.0L661.2 235.0L662.5 239.5L664.2 240.5L665.8 240.0L667.0 243.8L668.8 250.0L670.8 256.2L672.5 261.2L674.2 266.2L675.8 270.0L677.0 267.5L678.2 262.5L680.0 257.5L682.0 252.5L683.8 247.5L685.0 244.5L685.8 245.0L686.5 252.5L687.5 265.0L688.0 269.0L689.2 276.5L690.5 282.8L692.0 287.0L693.8 289.0L695.5 289.8L697.0 288.5L698.8 284.0L700.5 279.0L703.0 275.2L705.5 272.8L707.5 269.5L709.5 266.5L711.2 265.2L713.8 266.0L716.2 267.8L718.8 271.5L721.2 274.0L723.8 275.2L726.2 275.2L728.8 276.5L731.2 278.2L733.8 279.5L735.5 278.5L737.5 275.2L739.5 271.5L741.2 268.5L743.8 267.0L746.2 266.5L748.8 265.2L750.8 262.8L753.0 260.2L755.5 257.8L757.5 257.2L759.5 259.0L760.8 262.8L761.8 264.5L763.0 262.8L764.5 259.5L766.2 258.5L768.2 259.0L770.0 261.5L771.8 264.5L773.8 266.0L775.8 265.2L778.0 262.2L780.0 259.5L782.5 258.2L785.0 257.5L787.5 258.5 M800.8 259.5L803.2 262.0L806.2 260.0L810.0 257.5L813.8 255.5L817.5 254.2L821.2 253.2L825.0 252.5L827.5 250.0L830.0 248.2L833.8 248.0L836.2 247.0L838.8 244.5L840.8 242.0L842.5 241.2L843.8 243.8L846.2 247.5L848.8 250.5L851.2 252.5L853.8 254.2L857.0 255.2L860.0 255.8L863.8 255.0L867.5 253.2L871.2 250.5L874.5 247.0L877.5 242.5L880.0 237.5L882.5 233.2L885.0 230.5L887.5 229.5L889.5 227.0L891.2 223.8L893.0 221.8L895.0 221.8L896.8 222.5L898.0 230.0L900.0 237.5L902.5 246.2L905.0 255.0L907.0 261.2L908.8 263.8L911.2 261.2L913.8 257.5L916.2 253.8L918.0 250.0L920.0 245.0L920.2 240.0L920.8 230.0L922.0 222.0L924.5 220.0L927.5 219.2L930.5 221.2L933.0 224.5L935.0 227.5L936.2 232.5L938.0 237.5L940.0 240.5L941.2 246.2L942.5 253.8L944.2 259.5L946.2 261.8L948.0 261.8L950.0 259.5L952.5 255.0L954.5 250.0L956.2 247.5L958.8 247.0L961.2 248.0L963.0 250.8L965.0 254.0L967.5 259.5L970.0 263.2L972.5 265.8L974.5 264.5L975.8 263.2L977.0 265.8L978.8 270.8L980.8 275.2L982.5 277.2L983.8 274.0L985.0 267.8L986.8 261.5L988.2 258.5L989.5 257.8L990.8 260.2L992.5 266.5L994.2 274.0L996.2 281.5L998.0 286.5L1000.0 288.2L1002.0 287.8L1003.8 286.5L1005.0 286.0L1006.2 288.5L1008.2 293.5L1010.5 299.0L1013.0 304.0L1015.5 306.5L1017.5 307.0L1018.5 302.8L1019.5 294.0L1020.8 287.0L1023.0 285.8L1025.5 284.5L1027.5 283.5L1030.0 284.8L1033.0 285.5L1036.2 285.8L1038.8 286.5L1041.2 288.2L1043.0 289.8L1045.0 287.8L1047.5 286.0L1050.0 284.0L1051.8 279.8L1053.0 278.5L1054.5 279.8L1056.2 279.8L1058.2 277.8L1060.0 271.5L1061.8 266.5L1063.0 266.0L1065.0 267.8L1067.5 270.2L1070.0 272.0L1072.5 272.8L1075.0 272.2L1077.5 270.8L1081.2 270.8L1085.0 270.8L1088.8 270.2L1091.2 269.5L1095.0 269.0L1098.8 267.8L1101.2 266.5L1104.5 265.8L1107.0 263.5L1109.5 258.8L1112.0 252.5L1114.5 245.0L1117.0 237.5L1119.5 231.2L1122.0 227.0L1125.0 223.8L1128.0 220.8L1131.2 218.2L1133.8 217.5L1137.5 217.5L1140.0 218.0L1142.5 221.2L1145.0 226.2L1147.5 233.8L1150.0 241.2L1152.5 248.8L1155.0 254.5L1157.5 258.2L1158.8 259.2L1161.2 259.0L1165.0 258.2L1168.8 257.0L1172.5 256.5L1175.5 257.5L1178.0 259.2L1180.0 260.0L1182.0 258.8L1185.0 255.5L1188.0 252.0L1191.2 247.5L1195.0 240.0L1198.8 231.2L1202.5 222.5L1206.2 215.8L1209.5 211.2L1212.5 209.2L1216.2 208.8L1220.0 207.5L1223.0 206.2L1225.0 205.0L1226.2 207.5L1228.0 210.8L1230.5 214.5L1233.8 218.8L1237.0 222.5L1240.0 224.5L1243.0 225.8L1246.2 226.2L1249.5 226.2L1252.5 225.5L1255.0 223.2L1257.5 218.8L1260.0 212.5L1262.5 206.2L1265.0 200.8L1267.5 197.0L1270.0 193.2L1272.5 190.8L1275.0 190.5L1278.8 190.8L1282.5 191.0L1285.5 191.8L1287.5 190.0L1290.0 187.0L1292.5 185.8L1295.0 185.5L1297.0 183.8L1298.8 182.0L1300.0 182.5L1301.8 185.0L1303.8 188.8L1305.8 192.5L1307.5 193.8L1309.2 192.5L1311.2 191.2L1313.8 191.0L1316.2 191.5L1318.0 191.8 M1331.2 203.0L1333.8 201.2L1336.2 198.0L1338.8 195.8L1340.0 195.0L1341.2 197.5L1343.0 202.0L1345.0 205.5L1346.8 206.8L1348.8 205.8L1351.2 203.8L1353.0 202.5L1354.5 204.5L1356.2 206.8L1358.2 208.0L1360.5 207.0L1362.0 207.5L1363.8 210.0L1365.5 212.5L1367.5 213.8L1369.5 213.2L1371.2 212.5L1373.0 213.8L1375.0 214.5L1377.5 214.5L1380.0 213.8L1381.8 213.0L1383.8 214.2L1386.2 214.5L1388.8 214.2L1390.5 211.2L1392.5 205.0L1394.2 200.8L1396.2 200.0L1398.8 200.5L1401.2 201.8L1403.8 201.8L1406.2 200.5L1408.8 198.8L1410.8 198.2L1413.0 199.2L1415.5 199.5L1418.0 200.0L1420.0 202.5L1422.5 206.8L1425.0 210.8L1427.0 212.0L1428.8 210.8L1431.2 206.2L1433.8 200.8L1436.2 195.8L1438.8 192.0L1440.5 188.2L1442.5 185.8L1444.2 188.0L1446.2 191.2L1448.8 194.5L1451.2 197.5L1453.8 198.2L1455.5 199.5L1457.0 203.8L1458.8 207.5L1461.2 208.8L1463.0 210.0L1465.0 213.2L1467.0 216.2L1469.5 217.0L1471.8 216.2L1473.8 217.5L1475.8 220.0L1477.5 221.2L1479.5 220.0L1481.2 220.0L1483.2 222.0L1485.0 223.0L1487.0 222.5L1488.8 218.8L1490.5 213.8L1492.5 210.0L1495.0 207.5L1496.8 206.8L1498.0 210.0L1499.2 216.2L1501.2 220.0L1503.8 222.0L1506.2 222.0L1507.5 218.8L1508.5 212.5L1509.5 211.2L1510.5 215.0L1511.8 222.5L1513.2 227.5L1515.0 230.8L1517.5 231.8L1519.5 230.0L1521.2 226.2L1523.8 222.5L1526.2 220.8L1528.8 219.5L1530.5 217.5L1532.5 213.8L1534.5 213.2L1536.2 215.0L1538.0 217.0L1539.5 216.2L1541.2 212.5L1543.8 208.8L1546.2 205.8L1548.8 203.8L1551.2 203.8L1553.8 204.5L1556.2 205.0L1559.5 205.5L1562.5 206.2L1565.0 207.0L1567.5 206.2L1569.5 203.8L1571.2 199.5L1573.0 195.8L1575.0 194.5L1576.8 195.8L1578.0 202.5L1579.2 209.5L1580.5 208.8L1582.0 203.8L1583.8 201.2L1586.2 200.5L1588.8 200.5L1590.5 198.8L1592.5 197.5L1594.5 198.8L1596.2 198.8L1598.8 197.5" fill="none" stroke="#3cb034" stroke-width="2" stroke-linejoin="round" stroke-linecap="round"/>
<text x="77.5" y="84.3" text-anchor="end" style="font-family:'Liberation Sans',sans-serif;font-size:12px;letter-spacing:1px" fill="#555">90</text>
<text x="1606.2" y="84.3" text-anchor="start" style="font-family:'Liberation Sans',sans-serif;font-size:12px;letter-spacing:0.3px" fill="#555">100</text>
<text x="77.5" y="155.1" text-anchor="end" style="font-family:'Liberation Sans',sans-serif;font-size:12px;letter-spacing:1px" fill="#555">75</text>
<text x="1607.2" y="155.1" text-anchor="start" style="font-family:'Liberation Sans',sans-serif;font-size:12px;letter-spacing:1px" fill="#555">75</text>
<text x="77.5" y="225.8" text-anchor="end" style="font-family:'Liberation Sans',sans-serif;font-size:12px;letter-spacing:1px" fill="#555">60</text>
<text x="1607.2" y="225.8" text-anchor="start" style="font-family:'Liberation Sans',sans-serif;font-size:12px;letter-spacing:1px" fill="#555">50</text>
<text x="77.5" y="296.6" text-anchor="end" style="font-family:'Liberation Sans',sans-serif;font-size:12px;letter-spacing:1px" fill="#555">45</text>
<text x="1607.2" y="296.6" text-anchor="start" style="font-family:'Liberation Sans',sans-serif;font-size:12px;letter-spacing:1px" fill="#555">25</text>
<text x="77.5" y="367.3" text-anchor="end" style="font-family:'Liberation Sans',sans-serif;font-size:12px;letter-spacing:1px" fill="#555">30</text>
<text x="1607.2" y="367.3" text-anchor="start" style="font-family:'Liberation Sans',sans-serif;font-size:12px;letter-spacing:1px" fill="#555">0</text>
<text transform="translate(90.7,377.1) rotate(-45)" text-anchor="end" style="font-family:'Liberation Sans',sans-serif;font-size:11.8px;letter-spacing:-0.40px" fill="#555">Jun 1</text>
<text transform="translate(167.4,377.1) rotate(-45)" text-anchor="end" style="font-family:'Liberation Sans',sans-serif;font-size:11.8px;letter-spacing:-0.00px" fill="#555">Jun 2</text>
<text transform="translate(244.0,377.1) rotate(-45)" text-anchor="end" style="font-family:'Liberation Sans',sans-serif;font-size:11.8px;letter-spacing:-0.00px" fill="#555">Jun 3</text>
<text transform="translate(320.7,377.1) rotate(-45)" text-anchor="end" style="font-family:'Liberation Sans',sans-serif;font-size:11.8px;letter-spacing:-0.00px" fill="#555">Jun 4</text>
<text transform="translate(397.4,377.1) rotate(-45)" text-anchor="end" style="font-family:'Liberation Sans',sans-serif;font-size:11.8px;letter-spacing:-0.00px" fill="#555">Jun 5</text>
<text transform="translate(474.1,377.1) rotate(-45)" text-anchor="end" style="font-family:'Liberation Sans',sans-serif;font-size:11.8px;letter-spacing:-0.00px" fill="#555">Jun 6</text>
<text transform="translate(550.7,377.1) rotate(-45)" text-anchor="end" style="font-family:'Liberation Sans',sans-serif;font-size:11.8px;letter-spacing:-0.00px" fill="#555">Jun 7</text>
<text transform="translate(627.4,377.1) rotate(-45)" text-anchor="end" style="font-family:'Liberation Sans',sans-serif;font-size:11.8px;letter-spacing:-0.00px" fill="#555">Jun 8</text>
<text transform="translate(704.1,377.1) rotate(-45)" text-anchor="end" style="font-family:'Liberation Sans',sans-serif;font-size:11.8px;letter-spacing:-0.00px" fill="#555">Jun 9</text>
<text transform="translate(780.7,377.1) rotate(-45)" text-anchor="end" style="font-family:'Liberation Sans',sans-serif;font-size:11.8px;letter-spacing:-0.33px" fill="#555">Jun 10</text>
<text transform="translate(857.4,377.1) rotate(-45)" text-anchor="end" style="font-family:'Liberation Sans',sans-serif;font-size:11.8px;letter-spacing:-0.67px" fill="#555">Jun 11</text>
<text transform="translate(934.1,377.1) rotate(-45)" text-anchor="end" style="font-family:'Liberation Sans',sans-serif;font-size:11.8px;letter-spacing:-0.33px" fill="#555">Jun 12</text>
<text transform="translate(1010.8,377.1) rotate(-45)" text-anchor="end" style="font-family:'Liberation Sans',sans-serif;font-size:11.8px;letter-spacing:-0.33px" fill="#555">Jun 13</text>
<text transform="translate(1087.4,377.1) rotate(-45)" text-anchor="end" style="font-family:'Liberation Sans',sans-serif;font-size:11.8px;letter-spacing:-0.33px" fill="#555">Jun 14</text>
<text transform="translate(1164.1,377.1) rotate(-45)" text-anchor="end" style="font-family:'Liberation Sans',sans-serif;font-size:11.8px;letter-spacing:-0.33px" fill="#555">Jun 15</text>
<text transform="translate(1240.8,377.1) rotate(-45)" text-anchor="end" style="font-family:'Liberation Sans',sans-serif;font-size:11.8px;letter-spacing:-0.33px" fill="#555">Jun 16</text>
<text transform="translate(1317.4,377.1) rotate(-45)" text-anchor="end" style="font-family:'Liberation Sans',sans-serif;font-size:11.8px;letter-spacing:-0.33px" fill="#555">Jun 17</text>
<text transform="translate(1394.1,377.1) rotate(-45)" text-anchor="end" style="font-family:'Liberation Sans',sans-serif;font-size:11.8px;letter-spacing:-0.33px" fill="#555">Jun 18</text>
<text transform="translate(1470.8,377.1) rotate(-45)" text-anchor="end" style="font-family:'Liberation Sans',sans-serif;font-size:11.8px;letter-spacing:-0.33px" fill="#555">Jun 19</text>
<text transform="translate(1547.5,377.1) rotate(-45)" text-anchor="end" style="font-family:'Liberation Sans',sans-serif;font-size:11.8px;letter-spacing:-0.00px" fill="#555">Jun 20</text>
<text transform="translate(40,221.3) rotate(-90)" text-anchor="middle" textLength="12.6" lengthAdjust="spacingAndGlyphs" style="font-family:'Liberation Sans',sans-serif;font-size:14px" fill="#555">°F</text>
<text transform="translate(1644.2,221.4) rotate(90)" text-anchor="middle" textLength="10.4" lengthAdjust="spacingAndGlyphs" style="font-family:'Liberation Sans',sans-serif;font-size:14.5px" fill="#555">%</text>
<text x="842.4" y="20.8" text-anchor="middle" style="font-family:'Liberation Sans',sans-serif;font-size:19.2px;letter-spacing:0.88px;word-spacing:-1.5px" fill="#000" stroke="#000" stroke-width="0.6">Hancock Temperature and Humidity</text>
<text x="842.2" y="45" text-anchor="middle" style="font-family:'Liberation Sans',sans-serif;font-size:15.5px;letter-spacing:0.2px" fill="#666">Hourly Averages</text>
<rect x="644.9" y="437.15" width="12" height="3.5" rx="1.2" fill="#fc0014"/>
<text x="661.2" y="443.8" style="font-family:'Liberation Sans',sans-serif;font-size:15.5px;letter-spacing:0.3px" fill="#fc0014" stroke="#fc0014" stroke-width="0.35">Air Temperature</text>
<rect x="793.0" y="437.15" width="12" height="3.5" rx="1.2" fill="#ff9019"/>
<text x="808.9" y="443.8" style="font-family:'Liberation Sans',sans-serif;font-size:15.5px;letter-spacing:0.3px" fill="#ff9019" stroke="#ff9019" stroke-width="0.35">Relative Humidity</text>
<rect x="951.0" y="437.15" width="12" height="3.5" rx="1.2" fill="#3cb034"/>
<text x="966.6" y="443.8" style="font-family:'Liberation Sans',sans-serif;font-size:15.5px;letter-spacing:0.3px" fill="#3cb034" stroke="#3cb034" stroke-width="0.35">Dew Point</text>
</svg>
</body></html>
